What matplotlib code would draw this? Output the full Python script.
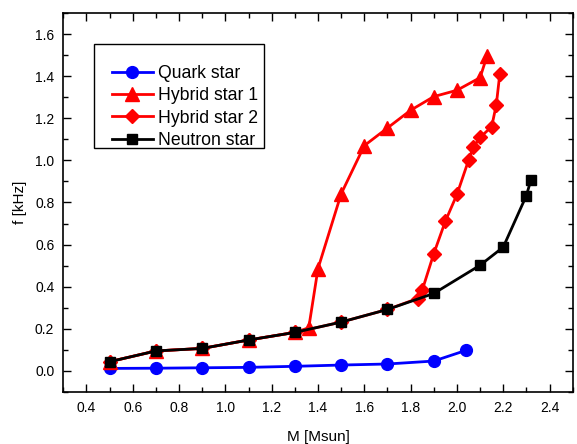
import matplotlib.pyplot as plt
from matplotlib.patches import Rectangle
from matplotlib.ticker import MultipleLocator

plt.rcParams['font.family'] = ['Liberation Sans', 'DejaVu Sans']

# Quark star
quark_m = [0.5, 0.7, 0.9, 1.1, 1.3, 1.5, 1.7, 1.9, 2.04]
quark_f = [0.012, 0.013, 0.015, 0.017, 0.022, 0.028, 0.033, 0.047, 0.098]

# Neutron star
neutron_m = [0.5, 0.7, 0.9, 1.1, 1.3, 1.5, 1.7, 1.9, 2.1, 2.2, 2.3, 2.32]
neutron_f = [0.044, 0.095, 0.107, 0.147, 0.183, 0.232, 0.292, 0.368, 0.502, 0.588, 0.833, 0.909]

# Hybrid star 1
hyb1_m = [0.5, 0.7, 0.9, 1.1, 1.3, 1.36, 1.4, 1.5, 1.6, 1.7, 1.8, 1.9, 2.0, 2.1, 2.13]
hyb1_f = [0.044, 0.095, 0.107, 0.147, 0.183, 0.205, 0.486, 0.841, 1.07, 1.154,
          1.238, 1.303, 1.333, 1.393, 1.496]

# Hybrid star 2
hyb2_m = [0.5, 0.7, 0.9, 1.1, 1.3, 1.5, 1.7, 1.83, 1.85, 1.9, 1.95, 2.0,
          2.05, 2.07, 2.1, 2.15, 2.17, 2.185]
hyb2_f = [0.044, 0.095, 0.107, 0.147, 0.183, 0.232, 0.292, 0.344, 0.383, 0.557,
          0.711, 0.838, 1.0, 1.062, 1.109, 1.16, 1.264, 1.409]

W, H = 577, 444
fig = plt.figure(figsize=(W / 100, H / 100), dpi=100)
ax = fig.add_axes([63.3 / W, 1 - 392 / H, 509.4 / W, 379 / H])

ax.plot(quark_m, quark_f, color='blue', lw=2, marker='o', ms=8.5,
        label='Quark star')
ax.plot(hyb1_m, hyb1_f, color='red', lw=2, marker='^', ms=10,
        label='Hybrid star 1')
ax.plot(hyb2_m, hyb2_f, color='red', lw=2, marker='D', ms=7,
        label='Hybrid star 2')
ax.plot(neutron_m, neutron_f, color='black', lw=2, marker='s', ms=7.5,
        label='Neutron star')

ax.set_xlim(0.3, 2.5)
ax.set_ylim(-0.1, 1.7)
ax.xaxis.set_major_locator(MultipleLocator(0.2))
ax.xaxis.set_minor_locator(MultipleLocator(0.1))
ax.yaxis.set_major_locator(MultipleLocator(0.2))
ax.yaxis.set_minor_locator(MultipleLocator(0.1))
ax.tick_params(which='both', direction='in', top=True, right=True,
               labelsize=10, width=1, pad=6.5)
ax.tick_params(which='major', length=6)
ax.tick_params(which='minor', length=3.5)
for s in ax.spines.values():
    s.set_linewidth(1.2)

ax.set_xlabel('M [Msun]', fontsize=11, labelpad=11)
ax.set_ylabel('f [kHz]', fontsize=11, labelpad=6)

# legend without frame, box drawn separately (padding is uneven in the original)
leg = ax.legend(loc='upper left', bbox_to_anchor=(112 / W, 1 - 65 / H),
                bbox_transform=fig.transFigure, fontsize=12.7, frameon=False,
                handlelength=2.3, handletextpad=0.3, labelspacing=0.3,
                borderpad=0, borderaxespad=0)
fig.patches.append(Rectangle((94 / W, 1 - 148.3 / H), 170.3 / W, 104 / H,
                             transform=fig.transFigure, fill=False,
                             edgecolor='black', lw=1))

plt.savefig('out.png', dpi=100)
